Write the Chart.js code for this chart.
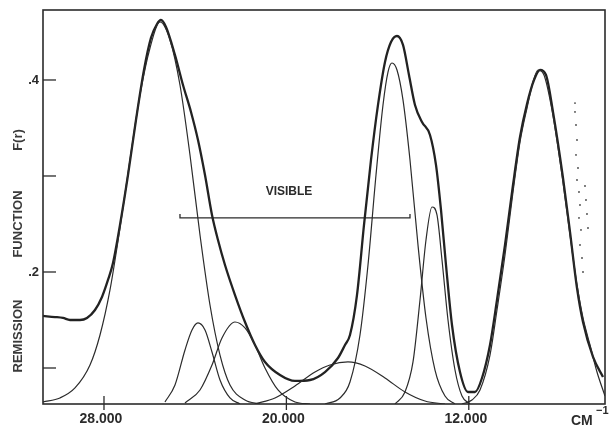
<!DOCTYPE html>
<html>
<head>
<meta charset="utf-8">
<script src="https://cdn.jsdelivr.net/npm/chart.js@4"></script>
<style>
  html, body { margin:0; padding:0; background:#fff; }
  canvas { display:block; }
</style>
</head>
<body>
<canvas id="c" width="613" height="434"></canvas>
<script>
// ── DATA (wavenumber cm-1, remission F(r)) ──────────────
const xTicks = [28000, 20000, 12000];
const xTickLabels = ['28.000', '20.000', '12.000'];
const yTicks = [0.1, 0.2, 0.3, 0.4];
const yTickLabels = ['', '.2', '', '.4'];

const measured = [
  [30675,0.1542],[30149,0.1531],[29798,0.1521],[29491,0.150],[29053,0.150],[28746,0.1521],
  [28395,0.1604],[28088,0.174],[27825,0.1917],[27605,0.2094],[27298,0.249],[26947,0.301],
  [26597,0.3583],[26246,0.4104],[25939,0.4438],[25675,0.4583],[25500,0.4625],[25281,0.4552],
  [24886,0.426],[24535,0.3948],[24184,0.3667],[23877,0.3375],[23570,0.301],[23263,0.2594],
  [23000,0.2333],[22693,0.2073],[22254,0.176],[21816,0.1479],[21377,0.124],[20939,0.1063],
  [20281,0.0927],[19623,0.0865],[18965,0.0875],[18307,0.0958],[17737,0.1104],[17430,0.124],
  [17211,0.1344],[16904,0.176],[16596,0.249],[16289,0.3167],[15982,0.374],[15675,0.4188],
  [15412,0.4396],[15149,0.4458],[14886,0.4365],[14623,0.4052],[14360,0.374],[14053,0.3563],
  [13702,0.3427],[13439,0.3115],[13219,0.2646],[13000,0.2073],[12737,0.1448],[12386,0.0958],
  [12035,0.075],[11728,0.075],[11421,0.0896],[11070,0.124],[10763,0.1708],[10412,0.2281],
  [10061,0.2906],[9754,0.3406],[9447,0.375],[9140,0.400],[8877,0.4104],[8614,0.4052],
  [8307,0.3667],[7868,0.2979],[7561,0.2417],[7254,0.1833],[6991,0.1479],[6552,0.1115],
  [6114,0.0906]
];

// scattered readings near the detector change-over
const noise = [
  [7342,0.376],[7342,0.3667],[7298,0.3531],[7254,0.3375],[7298,0.3219],[7210,0.3083],
  [7254,0.2958],[7167,0.2833],[7123,0.2698],[7167,0.2563],[7079,0.2438],[7123,0.2281],
  [7035,0.2146],[6991,0.200],[6903,0.2896],[6860,0.275],[6816,0.2604],[6772,0.2458]
];

const band1 = [
  [30675,0.0646],[29930,0.0688],[29272,0.0792],[28614,0.1031],[28175,0.1344],[27737,0.1813],
  [27298,0.2458],[26860,0.3167],[26421,0.3844],[25982,0.4333],[25544,0.4604],[25105,0.4417],
  [24667,0.3948],[24228,0.3219],[23789,0.2385],[23351,0.1656],[22912,0.1135],[22474,0.0823],
  [21816,0.0667],[21158,0.0625]
];
const band2 = [
  [25325,0.0646],[24886,0.0823],[24447,0.1188],[24140,0.1396],[23877,0.1469],[23570,0.1396],
  [23263,0.1167],[22912,0.0875],[22474,0.0688],[22035,0.0625]
];
const band3 = [
  [24447,0.0635],[23789,0.0771],[23263,0.1031],[22825,0.1313],[22254,0.1479],[21816,0.1417],
  [21377,0.124],[20939,0.100],[20368,0.0771],[19623,0.0646],[18965,0.0625]
];
const band4 = [
  [21377,0.0625],[20500,0.0688],[19623,0.0813],[18746,0.0958],[18088,0.1031],[17298,0.1063],
  [16553,0.1021],[15675,0.0896],[14798,0.075],[13921,0.0656],[13044,0.0625]
];
const band5 = [
  [18307,0.0625],[17649,0.0688],[17211,0.0854],[16772,0.1344],[16421,0.2073],[16070,0.301],
  [15763,0.374],[15544,0.4083],[15368,0.4177],[15149,0.4104],[14886,0.3792],[14579,0.3167],
  [14228,0.2281],[13877,0.1521],[13482,0.0979],[13044,0.0708],[12605,0.0625]
];
const band6 = [
  [15237,0.0625],[14798,0.075],[14447,0.1063],[14140,0.1708],[13877,0.2333],[13614,0.2677],
  [13395,0.2594],[13175,0.2125],[12912,0.150],[12605,0.0979],[12298,0.0708],[11947,0.0625]
];
const band7 = [
  [12298,0.0625],[11860,0.0667],[11509,0.0771],[11070,0.1135],[10763,0.1604],[10412,0.2177],
  [10061,0.2833],[9754,0.3354],[9447,0.3708],[9184,0.3979],[8965,0.4104],[8702,0.4052],
  [8351,0.3688],[7912,0.301],[7561,0.2385],[7254,0.1865],[6991,0.1521],[6684,0.124],
  [6377,0.0958],[6026,0.0708]
];

// "VISIBLE" range bracket
const visible = [[24667,0.2605],[24667,0.2563],[14579,0.2563],[14579,0.2605]];
const visibleLabel = { text:'VISIBLE', x:19886, y:0.284 };

const INK = '#2b2b2b';
const FONT = '"Liberation Sans", Arial, sans-serif';

const pts = arr => arr.map(([x, y]) => ({ x, y }));

const thin = (data) => ({
  data: pts(data),
  borderColor: INK,
  borderWidth: 1.2,
  pointRadius: 0,
  fill: false,
  cubicInterpolationMode: 'monotone',
});

// ── FRAME, TICKS, LABELS ────────────────────────────────
const decor = {
  id: 'decor',
  afterDatasetsDraw(chart) {
    const { ctx, chartArea: a, scales: { x, y } } = chart;
    ctx.save();
    ctx.strokeStyle = INK;
    ctx.fillStyle = INK;
    ctx.lineWidth = 1.6;
    ctx.strokeRect(a.left, a.top, a.right - a.left, a.bottom - a.top);

    // y ticks point into the plot
    ctx.lineWidth = 1.3;
    ctx.font = `bold 13px ${FONT}`;
    ctx.textAlign = 'right';
    ctx.textBaseline = 'middle';
    yTicks.forEach((v, i) => {
      const py = y.getPixelForValue(v);
      ctx.beginPath(); ctx.moveTo(a.left, py); ctx.lineTo(a.left + 13, py); ctx.stroke();
      if (yTickLabels[i]) ctx.fillText(yTickLabels[i], a.left - 4, py);
    });

    // x ticks cross the axis
    ctx.textAlign = 'center';
    ctx.font = `bold 14px ${FONT}`;
    xTicks.forEach((v, i) => {
      const px = x.getPixelForValue(v);
      ctx.beginPath(); ctx.moveTo(px, a.bottom - 8); ctx.lineTo(px, a.bottom + 6); ctx.stroke();
      ctx.fillText(xTickLabels[i], px - 3, a.bottom + 15);
    });

    // unit
    ctx.textAlign = 'left';
    ctx.fillText('CM', 571, a.bottom + 17);
    ctx.font = `bold 11px ${FONT}`;
    ctx.fillText('\u22121', 596, a.bottom + 7);

    // y title
    ctx.fillStyle = '#3a3a3a';
    ctx.font = `bold 13px ${FONT}`;
    ctx.translate(18, 0);
    ctx.rotate(-Math.PI / 2);
    ctx.textAlign = 'center';
    ctx.fillText('REMISSION', -336, 0);
    ctx.fillText('FUNCTION', -224, 0);
    ctx.fillText('F(r)', -140, 0);
    ctx.setTransform(1, 0, 0, 1, 0, 0);

    // bracket label
    ctx.fillStyle = INK;
    ctx.font = `bold 12px ${FONT}`;
    ctx.textAlign = 'center';
    ctx.fillText(visibleLabel.text, x.getPixelForValue(visibleLabel.x), y.getPixelForValue(visibleLabel.y));
    ctx.restore();
  }
};

new Chart(document.getElementById('c'), {
  type: 'line',
  data: {
    datasets: [
      thin(band1), thin(band2), thin(band3), thin(band4),
      thin(band5), thin(band6), thin(band7),
      {
        data: pts(measured),
        borderColor: '#222',
        borderWidth: 2.3,
        pointRadius: 0,
        fill: false,
        cubicInterpolationMode: 'monotone',
      },
      {
        data: pts(noise),
        showLine: false,
        pointRadius: 0.9,
        pointBackgroundColor: '#444',
        pointBorderWidth: 0,
      },
      {
        data: pts(visible),
        borderColor: INK,
        borderWidth: 1.3,
        pointRadius: 0,
        tension: 0,
        fill: false,
      },
    ]
  },
  options: {
    responsive: false,
    animation: false,
    layout: { padding: { left: 43, right: 8, top: 10, bottom: 30 } },
    plugins: { legend: { display: false }, tooltip: { enabled: false } },
    scales: {
      x: { type: 'linear', display: false, reverse: true, min: 6026, max: 30675 },
      y: { type: 'linear', display: false, min: 0.0625, max: 0.4729 }
    }
  },
  plugins: [decor]
});
</script>
</body>
</html>
